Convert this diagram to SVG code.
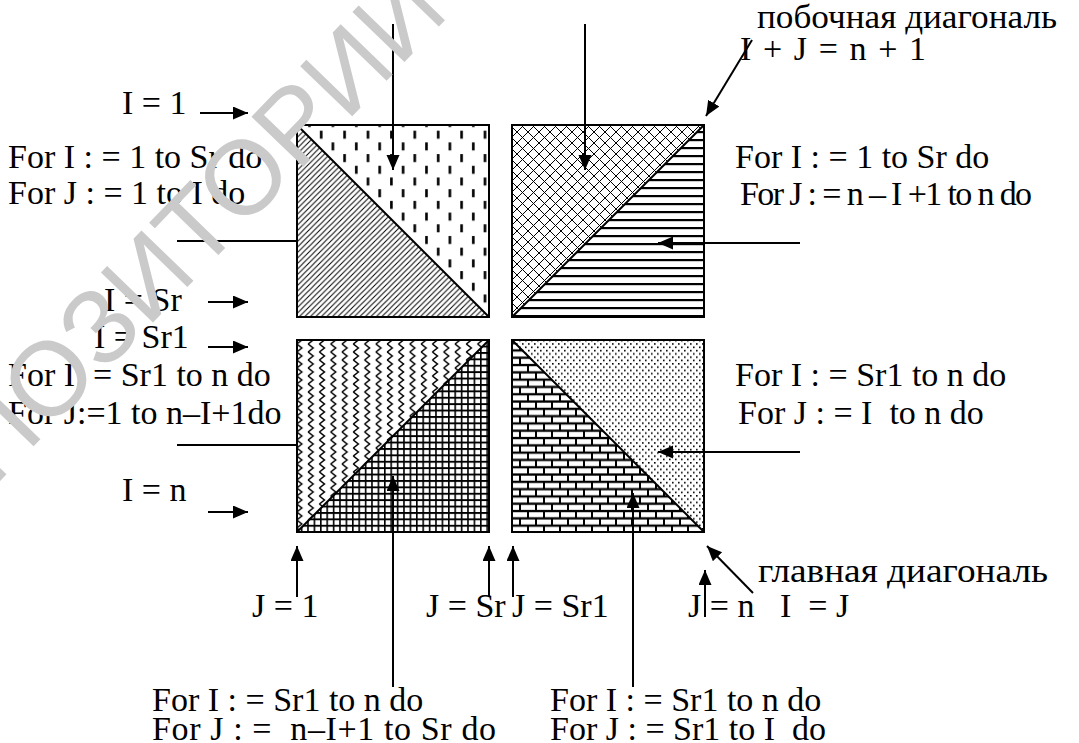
<svg xmlns="http://www.w3.org/2000/svg" width="1079" height="743" viewBox="0 0 1079 743">
<style>
.t{font-family:"Liberation Serif","Times New Roman",serif;font-size:34px;fill:#000;white-space:pre}
.wm{font-family:"Liberation Sans",Arial,sans-serif;font-size:105px;fill:#cacaca}
.ln{stroke:#000;stroke-width:2;fill:none}
.ar{stroke:#000;stroke-width:2;fill:none;marker-end:url(#ah)}
.sq{fill:none;stroke:#000;stroke-width:2}
</style>
<defs>
<marker id="ah" markerUnits="userSpaceOnUse" markerWidth="16" markerHeight="14" refX="15" refY="6.5" orient="auto"><path d="M0,0 L15,6.5 L0,13 z" fill="#000"/></marker>
<pattern id="pHatch" width="5.5" height="5.5" patternUnits="userSpaceOnUse"><path d="M-1,1 L1,-1 M0,5.5 L5.5,0 M4.5,6.5 L6.5,4.5" stroke="#000" stroke-width="1"/></pattern>
<pattern id="pDash" width="23.4" height="23.4" patternUnits="userSpaceOnUse"><rect x="4" y="2" width="2.6" height="8"/><rect x="15.7" y="13.7" width="2.6" height="8"/></pattern>
<pattern id="pCross" width="11" height="11" patternUnits="userSpaceOnUse"><path d="M0,0 L11,11 M11,0 L0,11" stroke="#000" stroke-width="1"/></pattern>
<pattern id="pHoriz" width="8" height="8" patternUnits="userSpaceOnUse"><rect y="3" width="8" height="2.2"/></pattern>
<pattern id="pWave" width="11.3" height="8" patternUnits="userSpaceOnUse"><path d="M3,0 L8,4 L3,8" stroke="#000" stroke-width="1.5" fill="none"/></pattern>
<pattern id="pGrid" width="6.4" height="6.4" patternUnits="userSpaceOnUse"><rect width="6.4" height="1.9"/><rect width="1.6" height="6.4"/></pattern>
<pattern id="pBrick" width="16" height="14.6" patternUnits="userSpaceOnUse"><rect width="16" height="14.6" fill="#000"/><rect x="1" y="1.2" width="14" height="5" fill="#fff"/><rect x="9" y="8.5" width="14" height="5" fill="#fff"/><rect x="-7" y="8.5" width="14" height="5" fill="#fff"/></pattern>
<pattern id="pDots" width="6" height="6.6" patternUnits="userSpaceOnUse"><rect width="1.6" height="1.6"/><rect x="3" y="3.3" width="1.6" height="1.6"/></pattern>
</defs>
<rect width="1079" height="743" fill="#fff"/>

<g id="sq-tl">
<polygon points="297,125 297,317 489,317" fill="url(#pHatch)"/>
<polygon points="297,125 489,125 489,317" fill="url(#pDash)"/>
<rect class="sq" x="297" y="125" width="192" height="192"/>
<line class="ln" x1="297" y1="125" x2="489" y2="317"/>
</g>
<g id="sq-tr">
<polygon points="512,125 704,125 512,317" fill="url(#pCross)"/>
<polygon points="704,125 704,317 512,317" fill="url(#pHoriz)"/>
<rect class="sq" x="512" y="125" width="192" height="192"/>
<line class="ln" x1="512" y1="317" x2="704" y2="125"/>
</g>
<g id="sq-bl">
<polygon points="297,340 489,340 297,532" fill="url(#pWave)"/>
<polygon points="489,340 489,532 297,532" fill="url(#pGrid)"/>
<rect class="sq" x="297" y="340" width="192" height="192"/>
<line class="ln" x1="297" y1="532" x2="489" y2="340"/>
</g>
<g id="sq-br">
<polygon points="512,340 512,532 704,532" fill="url(#pBrick)"/>
<polygon points="512,340 704,340 704,532" fill="url(#pDots)"/>
<rect class="sq" x="512" y="340" width="192" height="192"/>
<line class="ln" x1="512" y1="340" x2="704" y2="532"/>
</g>

<g id="connectors">
<path class="ar" d="M393,24 V170"/>
<path class="ar" d="M585,24 V170"/>
<path class="ar" d="M800,243 H658"/>
<path class="ln" d="M177,241 H297"/>
<path class="ln" d="M177,445 H297"/>
<path class="ar" d="M800,452 H658"/>
<path class="ar" d="M393,687 V476"/>
<path class="ar" d="M633,687 V493"/>
<path class="ar" d="M297,597 V546"/>
<path class="ar" d="M489,597 V546"/>
<path class="ar" d="M513,597 V546"/>
<path class="ar" d="M705,617 V570"/>
<path class="ar" d="M753,593 L707,546"/>
<path class="ar" d="M752,40 L706,116"/>
<path class="ar" d="M200,113 H248"/>
<path class="ar" d="M208,302 H248"/>
<path class="ar" d="M208,347 H248"/>
<path class="ar" d="M208,512 H248"/>
</g>

<g id="labels">
<text class="t" x="122" y="114">I = 1</text>
<text class="t" x="8" y="168">For I : = 1 to Sr do</text>
<text class="t" x="8" y="204">For J : = 1 to I do</text>
<text class="t" x="104" y="311">I = Sr</text>
<text class="t" x="94" y="348">I = Sr1</text>
<text class="t" x="8" y="386">For I: = Sr1 to n do</text>
<text class="t" x="8" y="424">For J:=1 to n–I+1do</text>
<text class="t" x="122" y="501">I = n</text>
<text class="t" x="757" y="28" textLength="300" lengthAdjust="spacingAndGlyphs">побочная диагональ</text>
<text class="t" x="740" y="60" textLength="186">I + J = n + 1</text>
<text class="t" x="735" y="168">For I : = 1 to Sr do</text>
<text class="t" x="740" y="205" textLength="292">For J : = n – I +1 to n do</text>
<text class="t" x="735" y="386">For I : = Sr1 to n do</text>
<text class="t" x="738" y="424">For J : = I  to n do</text>
<text class="t" x="758" y="582" textLength="290" lengthAdjust="spacingAndGlyphs">главная диагональ</text>
<text class="t" x="688" y="617">J = n   I  = J</text>
<text class="t" x="252" y="617">J = 1</text>
<text class="t" x="426" y="617">J = Sr</text>
<text class="t" x="512" y="617">J = Sr1</text>
<text class="t" x="152" y="711">For I : = Sr1 to n do</text>
<text class="t" x="152" y="740" textLength="344">For J : =  n–I+1 to Sr do</text>
<text class="t" x="550" y="711">For I : = Sr1 to n do</text>
<text class="t" x="550" y="740">For J : = Sr1 to I  do</text>
</g>

<g id="watermark">
<text class="wm" text-anchor="end" transform="translate(451,14) rotate(-46)">РЕПОЗИТОРИЙ</text>
</g>
</svg>
